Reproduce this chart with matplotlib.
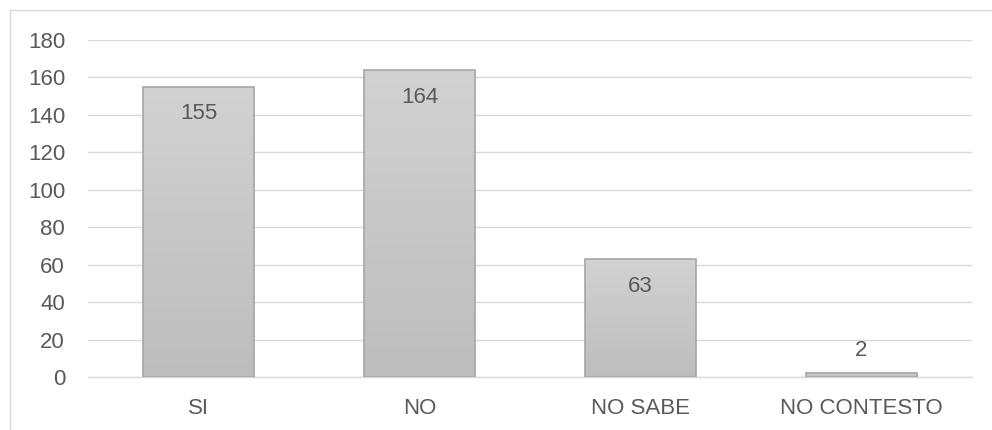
import matplotlib.pyplot as plt
import numpy as np
from matplotlib.patches import Rectangle
from matplotlib.colors import LinearSegmentedColormap

categories = ["SI", "NO", "NO SABE", "NO CONTESTO"]
values = [155, 164, 63, 2]
y_ticks = [0, 20, 40, 60, 80, 100, 120, 140, 160, 180]

plt.rcParams['font.family'] = ['Liberation Sans', 'DejaVu Sans']

fig = plt.figure(figsize=(9.92, 4.3), dpi=100)
W, H = 992, 430

# outer chart frame (only top and left edges visible)
fig.add_artist(Rectangle((10 / W, -0.1), 1.2, (H - 10) / H + 0.1,
                         transform=fig.transFigure, fill=False,
                         edgecolor='#d9d9d9', linewidth=1))

ax = fig.add_axes([88 / W, 1 - 377 / H, 884 / W, 337 / H])
ax.set_xlim(-0.5, len(categories) - 0.5)
ax.set_ylim(0, 180)

# bars with a light vertical gradient
grad = np.linspace(0, 1, 256).reshape(-1, 1)
cmap = LinearSegmentedColormap.from_list('g', ['#bdbdbd', '#d2d2d2'])
bars = ax.bar(range(len(categories)), values, width=0.5,
              facecolor='none', edgecolor='#a6a6a6', linewidth=1.2, zorder=3)
for b in bars:
    x0, w, h = b.get_x(), b.get_width(), b.get_height()
    img = ax.imshow(grad, cmap=cmap, origin='lower', aspect='auto',
                    extent=(x0, x0 + w, 0, h), zorder=2)
    img.set_clip_path(b)

for i, v in enumerate(values):
    if v > 20:
        ax.annotate(str(v), (i, v), xytext=(0, -12), textcoords='offset points',
                    ha='center', va='top', fontsize=16, color='#595959', zorder=4)
    else:
        ax.annotate(str(v), (i, v), xytext=(0, 9), textcoords='offset points',
                    ha='center', va='bottom', fontsize=16, color='#595959', zorder=4)

ax.set_yticks(y_ticks)
ax.set_xticks(range(len(categories)))
ax.set_xticklabels(categories)
ax.grid(axis='y', color='#d9d9d9', linewidth=1, zorder=0)
for s in ['top', 'right', 'left']:
    ax.spines[s].set_visible(False)
ax.spines['bottom'].set_color('#d9d9d9')
ax.spines['bottom'].set_linewidth(1)
ax.tick_params(axis='both', length=0, labelsize=16, labelcolor='#595959')
ax.tick_params(axis='y', pad=16.5)
ax.tick_params(axis='x', pad=15)

fig.savefig('out.png', dpi=100)
